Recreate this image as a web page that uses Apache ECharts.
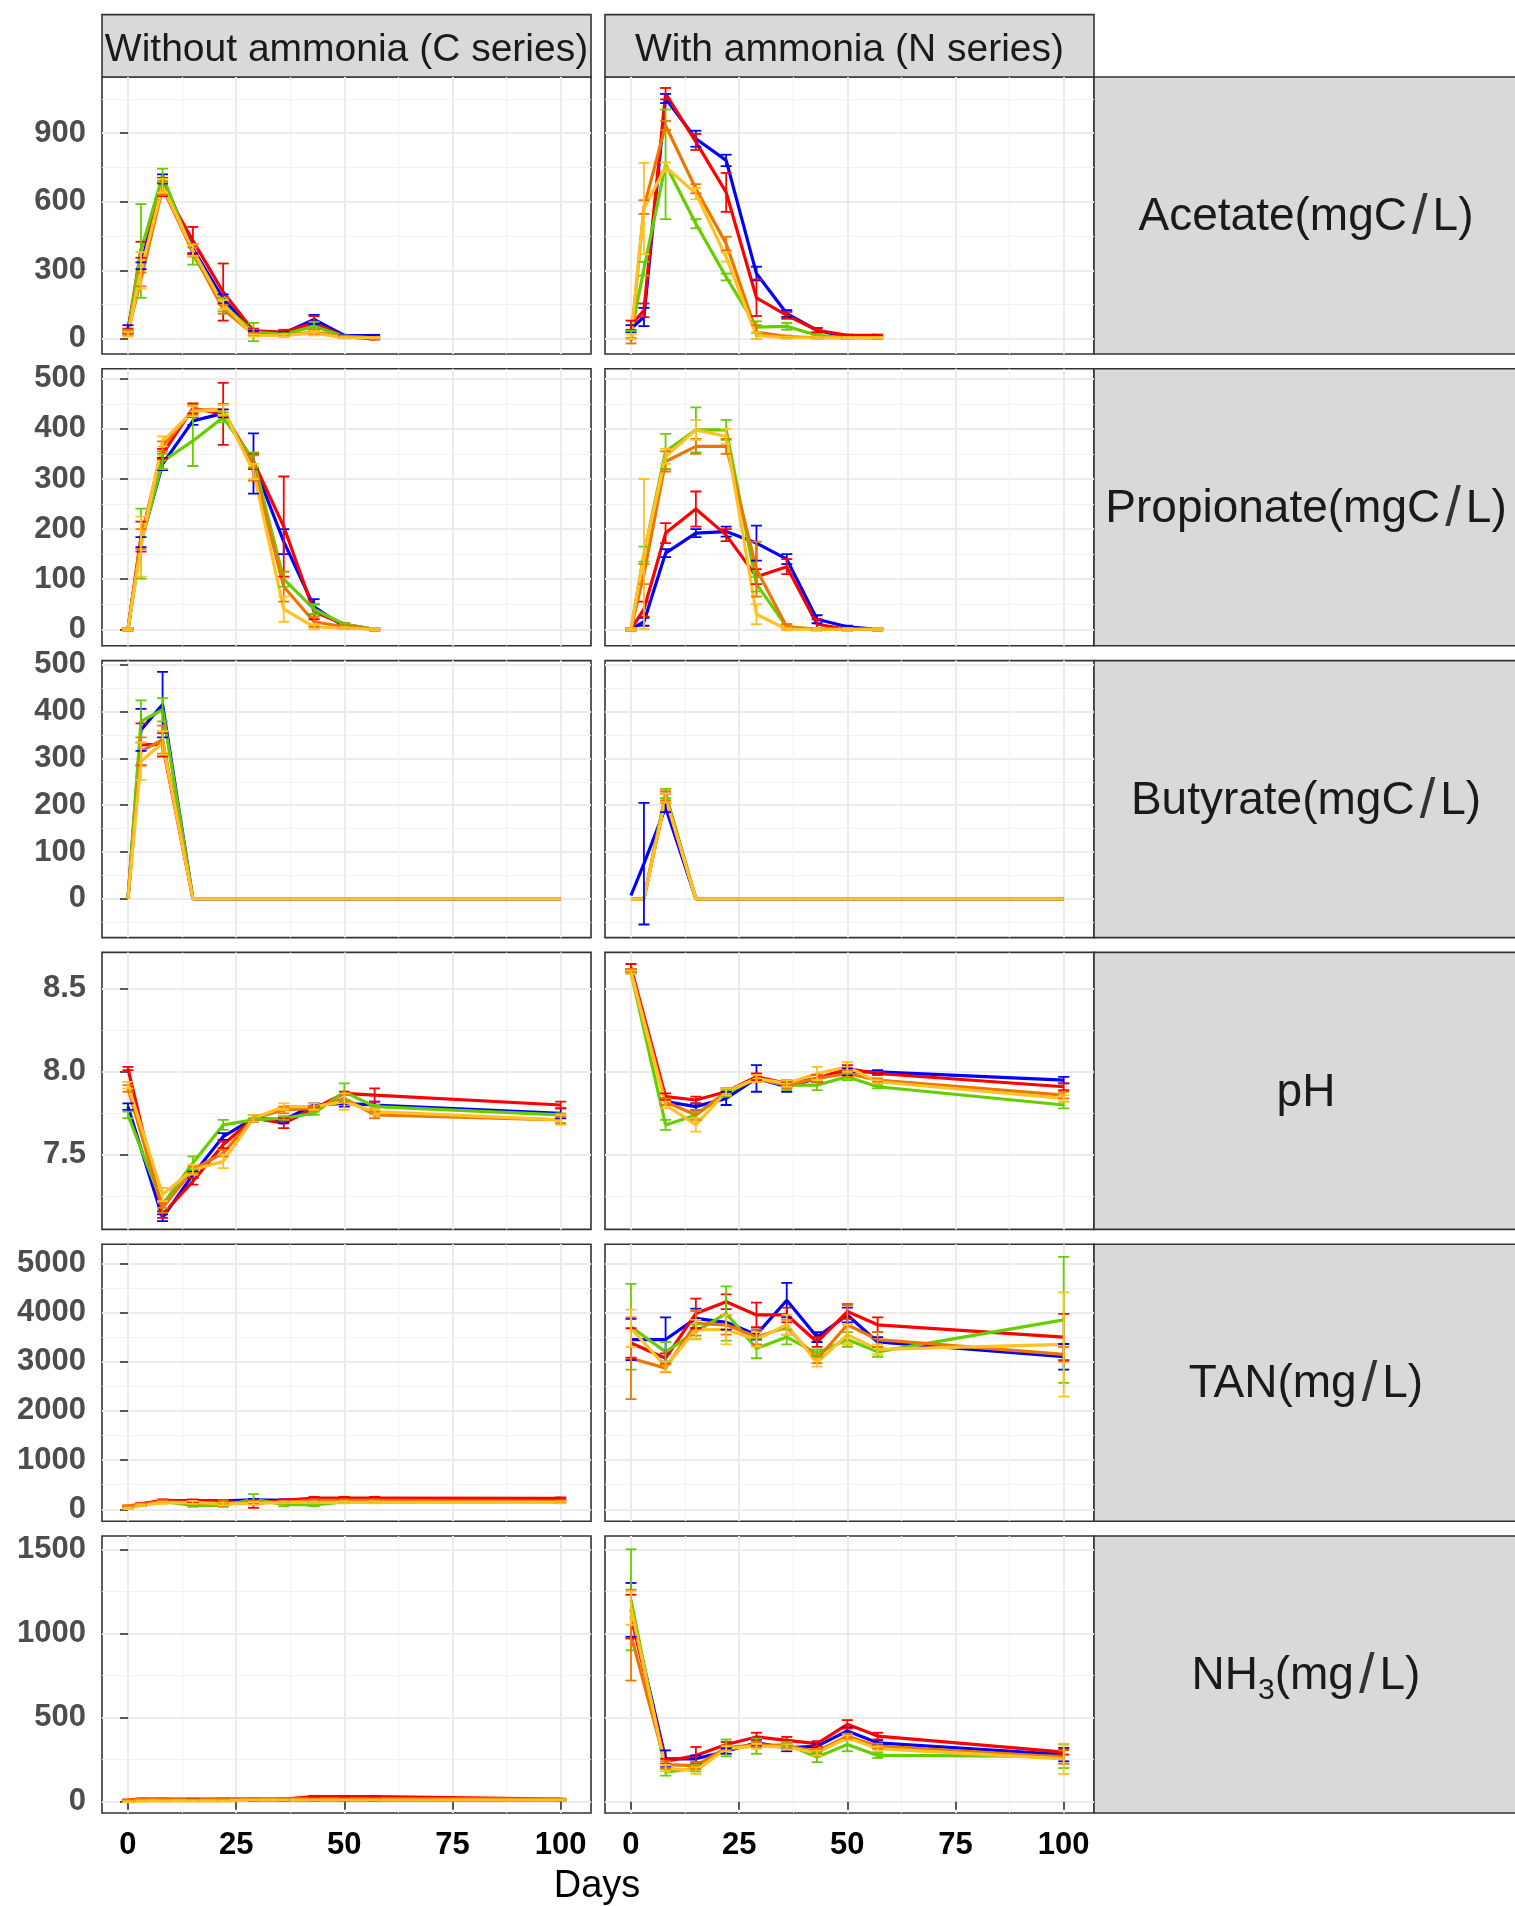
<!DOCTYPE html>
<html>
<head>
<meta charset="utf-8">
<script src="https://cdn.jsdelivr.net/npm/echarts@6/dist/echarts.min.js"></script>
<style>
  html, body { margin: 0; padding: 0; background: #fff; }
  #chart { width: 1515px; height: 1906px; }
</style>
</head>
<body>
<div id="chart"></div>
<script>
// sampling days (null where a variable was not measured)
var days = [0, 3, 8, 15, 22, 29, 36, 43, 50, 57, 100];
var reactors = ['R1', 'R2', 'R3', 'R4', 'R5'];
var colors = ['#0000FF', '#FF0000', '#66CD00', '#EE7600', '#FFC125'];
var xTicks = [0, 25, 50, 75, 100];
var xMinor = [12.5, 37.5, 62.5, 87.5];
var colTitles = ['Without ammonia (C series)', 'With ammonia (N series)'];

// Acetate (mgC/L), rows = R1..R5
var acetateC = [
  [45, 320, 700, 395, 175, 30, 25, 85, 15, 15, null],
  [35, 390, 665, 430, 205, 35, 30, 70, 10, 0, null],
  [25, 385, 715, 370, 150, 30, 20, 55, 10, 5, null],
  [30, 260, 660, 380, 130, 20, 15, 30, 10, 5, null],
  [20, 300, 670, 388, 150, 15, 15, 25, 5, 5, null]
];
var acetateCsd = [
  [15, 15, 20, 20, 20, 5, 5, 20, 3, 3, null],
  [10, 35, 40, 60, 125, 10, 10, 30, 3, 3, null],
  [10, 205, 30, 45, 30, 40, 5, 20, 5, 3, null],
  [10, 30, 30, 20, 20, 5, 5, 10, 3, 3, null],
  [10, 80, 30, 25, 20, 5, 5, 10, 3, 3, null]
];
var acetateN = [
  [45, 96, 1052, 876, 781, 286, 111, 38, 8, 5, null],
  [60, 125, 1073, 862, 641, 180, 103, 38, 16, 16, null],
  [20, 307, 764, 504, 271, 52, 55, 16, 5, 5, null],
  [-10, 577, 934, 657, 417, 30, 10, 5, 5, 5, null],
  [10, 570, 752, 636, 358, 15, 5, 5, 5, 5, null]
];
var acetateNsd = [
  [15, 40, 20, 35, 25, 30, 15, 10, 3, 3, null],
  [20, 30, 25, 35, 85, 80, 15, 10, 3, 3, null],
  [15, 30, 240, 20, 15, 25, 15, 5, 3, 3, null],
  [10, 30, 20, 20, 30, 30, 5, 5, 3, 3, null],
  [10, 200, 20, 25, 20, 15, 5, 5, 3, 3, null]
];

// Propionate (mgC/L)
var propionateC = [
  [0, 174, 330, 416, 431, 331, 175, 45, 5, 0, null],
  [0, 185, 350, 441, 430, 335, 205, 35, 10, 0, null],
  [0, 171, 335, 376, 423, 338, 100, 40, 10, 0, null],
  [0, 180, 365, 438, 438, 322, 85, 15, 5, 0, null],
  [0, 165, 375, 435, 438, 315, 40, 5, 2, 0, null]
];
var propionateCsd = [
  [2, 10, 12, 8, 8, 60, 25, 15, 2, 2, null],
  [2, 30, 10, 10, 62, 15, 100, 15, 2, 2, null],
  [2, 70, 15, 50, 10, 15, 15, 10, 2, 2, null],
  [2, 20, 10, 10, 12, 25, 30, 10, 2, 2, null],
  [2, 60, 10, 10, 10, 15, 25, 5, 2, 2, null]
];
var propionateN = [
  [0, 15, 152, 192, 195, 172, 140, 20, 5, 0, null],
  [0, 40, 192, 240, 188, 105, 125, 10, 0, 0, null],
  [0, 150, 355, 398, 398, 90, 5, 0, 0, 0, null],
  [0, 110, 335, 365, 365, 120, 5, 0, 0, 0, null],
  [0, 150, 345, 398, 385, 30, 0, 0, 0, 0, null]
];
var propionateNsd = [
  [2, 8, 8, 8, 10, 35, 10, 8, 2, 2, null],
  [2, 15, 20, 35, 12, 15, 15, 10, 2, 2, null],
  [2, 15, 35, 45, 20, 15, 5, 2, 2, 2, null],
  [2, 20, 20, 15, 15, 55, 5, 2, 2, 2, null],
  [2, 150, 15, 20, 15, 20, 2, 2, 2, 2, null]
];

// Butyrate (mgC/L)
var butyrateC = [
  [0, 361, 415, 0, 0, 0, 0, 0, 0, 0, 0],
  [0, 330, 329, 0, 0, 0, 0, 0, 0, 0, 0],
  [0, 379, 404, 0, 0, 0, 0, 0, 0, 0, 0],
  [0, 315, 340, 0, 0, 0, 0, 0, 0, 0, 0],
  [0, 294, 333, 0, 0, 0, 0, 0, 0, 0, 0]
];
var butyrateCsd = [
  [0, 45, 70, 0, 0, 0, 0, 0, 0, 0, 0],
  [0, 45, 25, 0, 0, 0, 0, 0, 0, 0, 0],
  [0, 45, 25, 0, 0, 0, 0, 0, 0, 0, 0],
  [0, 30, 30, 0, 0, 0, 0, 0, 0, 0, 0],
  [0, 40, 25, 0, 0, 0, 0, 0, 0, 0, 0]
];
var butyrateN = [
  [7, 75, 195, 0, 0, 0, 0, 0, 0, 0, 0],
  [0, 0, 215, 0, 0, 0, 0, 0, 0, 0, 0],
  [0, 0, 225, 0, 0, 0, 0, 0, 0, 0, 0],
  [0, 0, 220, 0, 0, 0, 0, 0, 0, 0, 0],
  [0, 0, 215, 0, 0, 0, 0, 0, 0, 0, 0]
];
var butyrateNsd = [
  [0, 130, 10, 0, 0, 0, 0, 0, 0, 0, 0],
  [0, 0, 10, 0, 0, 0, 0, 0, 0, 0, 0],
  [0, 0, 10, 0, 0, 0, 0, 0, 0, 0, 0],
  [0, 0, 10, 0, 0, 0, 0, 0, 0, 0, 0],
  [0, 0, 10, 0, 0, 0, 0, 0, 0, 0, 0]
];

// pH
var phC = [
  [7.79, null, 7.12, 7.38, 7.61, 7.72, 7.71, 7.80, 7.81, 7.80, 7.75],
  [8.02, null, 7.14, 7.34, 7.56, 7.72, 7.69, 7.78, 7.87, 7.86, 7.80],
  [7.74, null, 7.20, 7.45, 7.68, 7.71, 7.72, 7.75, 7.88, 7.79, 7.74],
  [7.90, null, 7.18, 7.41, 7.51, 7.72, 7.77, 7.78, 7.84, 7.74, 7.71],
  [7.92, null, 7.26, 7.41, 7.46, 7.72, 7.79, 7.79, 7.82, 7.76, 7.71]
];
var phCsd = [
  [0.02, null, 0.02, 0.02, 0.02, 0.02, 0.02, 0.01, 0.02, 0.02, 0.03],
  [0.01, null, 0.02, 0.02, 0.02, 0.02, 0.03, 0.01, 0.01, 0.04, 0.02],
  [0.02, null, 0.02, 0.04, 0.03, 0.01, 0.01, 0.01, 0.05, 0.01, 0.01],
  [0.02, null, 0.03, 0.02, 0.02, 0.02, 0.02, 0.01, 0.02, 0.02, 0.02],
  [0.02, null, 0.04, 0.03, 0.04, 0.02, 0.02, 0.02, 0.05, 0.02, 0.03]
];
var phN = [
  [8.61, null, 7.82, 7.79, 7.84, 7.96, 7.91, 7.96, 8.00, 8.00, 7.95],
  [8.63, null, 7.85, 7.83, 7.88, 7.97, 7.93, 7.96, 8.02, 7.99, 7.91],
  [8.60, null, 7.68, 7.74, 7.87, 7.96, 7.92, 7.92, 7.97, 7.91, 7.80],
  [8.61, null, 7.82, 7.74, 7.88, 7.96, 7.92, 7.96, 7.99, 7.95, 7.86],
  [8.60, null, 7.80, 7.68, 7.88, 7.96, 7.93, 7.99, 8.03, 7.94, 7.84]
];
var phNsd = [
  [0.01, null, 0.02, 0.02, 0.04, 0.08, 0.03, 0.02, 0.02, 0.01, 0.02],
  [0.02, null, 0.02, 0.02, 0.02, 0.02, 0.02, 0.02, 0.02, 0.01, 0.02],
  [0.01, null, 0.03, 0.02, 0.02, 0.02, 0.03, 0.03, 0.02, 0.01, 0.02],
  [0.01, null, 0.02, 0.03, 0.02, 0.02, 0.02, 0.02, 0.02, 0.01, 0.02],
  [0.01, null, 0.02, 0.04, 0.02, 0.02, 0.02, 0.04, 0.03, 0.01, 0.02]
];

// TAN (mg/L)
var tanC = [
  [50, 100, 170, 170, 170, 190, 180, 200, 200, 200, 180],
  [50, 110, 180, 170, 160, 110, 180, 230, 230, 230, 220],
  [40, 90, 160, 80, 80, 200, 100, 90, 150, 150, 150],
  [70, 100, 150, 130, 120, 140, 140, 180, 180, 180, 160],
  [20, 80, 130, 140, 110, 120, 140, 140, 140, 140, 140]
];
var tanCsd = [
  [15, 20, 20, 20, 20, 20, 20, 20, 20, 20, 20],
  [15, 20, 20, 30, 30, 80, 20, 20, 20, 20, 20],
  [15, 20, 20, 30, 30, 110, 40, 30, 20, 20, 20],
  [15, 20, 20, 30, 60, 30, 20, 20, 20, 20, 20],
  [15, 20, 20, 30, 30, 30, 20, 20, 20, 20, 20]
];
var tanN = [
  [3450, null, 3450, 3880, 3800, 3550, 4250, 3500, 3950, 3400, 3100],
  [3380, null, 3070, 3980, 4220, 3950, 3950, 3400, 4020, 3750, 3500],
  [3710, null, 3200, 3610, 3980, 3270, 3500, 3170, 3450, 3200, 3850],
  [3070, null, 2870, 3780, 3750, 3500, 3700, 3050, 3750, 3450, 3150],
  [3680, null, 2900, 3650, 3650, 3450, 3750, 2980, 3550, 3250, 3350]
];
var tanNsd = [
  [420, null, 450, 200, 150, 100, 350, 100, 150, 100, 260],
  [300, null, 100, 300, 150, 250, 150, 100, 150, 150, 470],
  [870, null, 200, 150, 550, 200, 150, 80, 150, 100, 1280],
  [830, null, 80, 250, 200, 150, 150, 80, 400, 150, 150],
  [380, null, 100, 200, 300, 150, 200, 80, 200, 100, 1060]
];

// NH3 (mg/L)
var nh3C = [
  [5, 10, 10, 10, 10, 10, 10, 10, 10, 10, 10],
  [10, 15, 15, 15, 15, 15, 15, 30, 30, 30, 15],
  [5, 10, 10, 10, 10, 15, 15, 15, 15, 15, 15],
  [10, 15, 15, 10, 15, 15, 15, 15, 15, 15, 12],
  [0, 5, 5, 5, 5, 10, 10, 10, 10, 10, 10]
];
var nh3Csd = [
  [3, 3, 3, 3, 3, 3, 3, 3, 3, 3, 3],
  [3, 3, 3, 3, 3, 3, 3, 5, 5, 5, 3],
  [3, 3, 3, 3, 3, 3, 3, 3, 3, 3, 3],
  [3, 3, 3, 3, 3, 3, 3, 3, 3, 3, 3],
  [3, 3, 3, 3, 3, 3, 3, 3, 3, 3, 3]
];
var nh3N = [
  [1140, null, 255, 255, 300, 350, 320, 330, 420, 350, 280],
  [1100, null, 240, 275, 340, 385, 365, 345, 460, 390, 295],
  [1200, null, 175, 200, 320, 330, 340, 265, 340, 275, 270],
  [990, null, 220, 215, 320, 340, 330, 300, 390, 330, 265],
  [1150, null, 200, 185, 315, 330, 325, 290, 380, 315, 255]
];
var nh3Nsd = [
  [160, null, 50, 20, 15, 20, 20, 15, 20, 15, 40],
  [130, null, 15, 50, 15, 25, 20, 15, 25, 20, 15],
  [300, null, 20, 20, 50, 45, 15, 30, 40, 15, 70],
  [270, null, 20, 20, 15, 15, 15, 15, 15, 15, 40],
  [100, null, 20, 20, 15, 15, 15, 15, 15, 15, 90]
];

// y tick labels per row
var acetateTicks = [0, 300, 600, 900], acetateMinor = [150, 450, 750, 1050];
var propionateTicks = [0, 100, 200, 300, 400, 500], propionateMinor = [50, 150, 250, 350, 450];
var butyrateTicks = [0, 100, 200, 300, 400, 500], butyrateMinor = [-50, 50, 150, 250, 350, 450];
var phTicks = [7.5, 8.0, 8.5], phMinor = [7.25, 7.75, 8.25];
var tanTicks = [0, 1000, 2000, 3000, 4000, 5000], tanMinor = [500, 1500, 2500, 3500, 4500];
var nh3Ticks = [0, 500, 1000, 1500], nh3Minor = [250, 750, 1250];

var FONT = '"Liberation Sans", Arial, sans-serif';

var rows = [
  { label: '{t|Acetate(mgC}{s|/}{t|L)}', ticks: acetateTicks, minor: acetateMinor, range: [-66, 1146], vals: [acetateC, acetateN], sd: [acetateCsd, acetateNsd] },
  { label: '{t|Propionate(mgC}{s|/}{t|L)}', ticks: propionateTicks, minor: propionateMinor, range: [-33, 520], vals: [propionateC, propionateN], sd: [propionateCsd, propionateNsd] },
  { label: '{t|Butyrate(mgC}{s|/}{t|L)}', ticks: butyrateTicks, minor: butyrateMinor, range: [-83, 509], vals: [butyrateC, butyrateN], sd: [butyrateCsd, butyrateNsd] },
  { label: '{t|pH}', ticks: phTicks, minor: phMinor, range: [7.05, 8.72], vals: [phC, phN], sd: [phCsd, phNsd], fmt: function (v) { return v.toFixed(1); } },
  { label: '{t|TAN(mg}{s|/}{t|L)}', ticks: tanTicks, minor: tanMinor, range: [-242, 5388], vals: [tanC, tanN], sd: [tanCsd, tanNsd] },
  { label: '{t|NH}{sub|3}{t|(mg}{s|/}{t|L)}', ticks: nh3Ticks, minor: nh3Minor, range: [-67, 1579], vals: [nh3C, nh3N], sd: [nh3Csd, nh3Nsd] }
];

// layout (px)
var panelLeft = [102, 605];
var panelWidth = 489;
var panelTop0 = 77, rowStep = 291.8, panelHeight = 277;
var stripRightX = 1094, stripRightW = 424;

function renderErr(params, api) {
  var x = api.value(0);
  var p1 = api.coord([x, api.value(1)]);
  var p2 = api.coord([x, api.value(2)]);
  var w = 5.5;
  var st = { stroke: api.visual('color'), lineWidth: 1.8 };
  return {
    type: 'group',
    children: [
      { type: 'line', shape: { x1: p1[0], y1: p1[1], x2: p2[0], y2: p2[1] }, style: st },
      { type: 'line', shape: { x1: p1[0] - w, y1: p1[1], x2: p1[0] + w, y2: p1[1] }, style: st },
      { type: 'line', shape: { x1: p2[0] - w, y1: p2[1], x2: p2[0] + w, y2: p2[1] }, style: st }
    ]
  };
}

var grids = [], xAxes = [], yAxes = [], series = [], graphics = [];

rows.forEach(function (row, r) {
  var top = panelTop0 + r * rowStep;
  var bottomRow = r === rows.length - 1;
  for (var c = 0; c < 2; c++) {
    var g = grids.length;
    grids.push({
      left: panelLeft[c], top: top, width: panelWidth, height: panelHeight,
      show: true, backgroundColor: '#fff', borderColor: '#333333', borderWidth: 1.6,
      containLabel: false, outerBoundsMode: 'none'
    });
    // major x
    xAxes.push({
      type: 'value', gridIndex: g, min: -6, max: 107,
      axisLine: { show: false },
      axisTick: { show: bottomRow, customValues: xTicks, length: 8, lineStyle: { color: '#333333', width: 1.6 } },
      axisLabel: { show: bottomRow, customValues: xTicks, margin: 17, color: '#000', fontSize: 31, fontWeight: 'bold', fontFamily: FONT },
      splitLine: { show: true, lineStyle: { color: '#EBEBEB', width: 2 } }
    });
    // minor x
    xAxes.push({
      type: 'value', gridIndex: g, min: -6, max: 107,
      axisLine: { show: false },
      axisTick: { show: false, customValues: xMinor },
      axisLabel: { show: false },
      splitLine: { show: true, lineStyle: { color: '#F2F2F2', width: 1.2 } }
    });
    // major y
    yAxes.push({
      type: 'value', gridIndex: g, min: row.range[0], max: row.range[1],
      axisLine: { show: false },
      axisTick: { show: c === 0, customValues: row.ticks, length: 8, lineStyle: { color: '#333333', width: 1.6 } },
      axisLabel: { show: c === 0, customValues: row.ticks, margin: 16, color: '#4D4D4D', fontSize: 31, fontWeight: 'bold', fontFamily: FONT,
        formatter: row.fmt || function (v) { return String(v); } },
      splitLine: { show: true, lineStyle: { color: '#EBEBEB', width: 2 } }
    });
    // minor y
    yAxes.push({
      type: 'value', gridIndex: g, min: row.range[0], max: row.range[1],
      axisLine: { show: false },
      axisTick: { show: false, customValues: row.minor },
      axisLabel: { show: false },
      splitLine: { show: true, lineStyle: { color: '#F2F2F2', width: 1.2 } }
    });

    var vals = row.vals[c], sds = row.sd[c];
    // lines
    reactors.forEach(function (name, k) {
      var pts = [];
      days.forEach(function (d, i) { if (vals[k][i] != null) pts.push([d, vals[k][i]]); });
      series.push({
        type: 'line', name: name, xAxisIndex: 2 * g, yAxisIndex: 2 * g,
        data: pts, showSymbol: false, symbol: 'none', clip: true,
        lineStyle: { color: colors[k], width: 3.2 }, itemStyle: { color: colors[k] },
        silent: true, z: 3
      });
    });
    // error bars
    reactors.forEach(function (name, k) {
      var eb = [];
      days.forEach(function (d, i) {
        var v = vals[k][i], s = sds[k][i];
        if (v != null && s != null && s > 0) eb.push([d, v - s, v + s]);
      });
      series.push({
        type: 'custom', name: name, xAxisIndex: 2 * g, yAxisIndex: 2 * g,
        data: eb, renderItem: renderErr, encode: { x: 0, y: [1, 2] },
        itemStyle: { color: colors[k] }, clip: true, silent: true, z: 4
      });
    });
  }

  // right strip
  graphics.push({
    type: 'rect', shape: { x: stripRightX, y: top, width: stripRightW, height: panelHeight },
    style: { fill: '#D9D9D9', stroke: '#333333', lineWidth: 1.6 }, silent: true
  });
  graphics.push({
    type: 'text', x: stripRightX + stripRightW / 2, y: top + panelHeight / 2 + 2, silent: true,
    style: {
      text: row.label, align: 'center', verticalAlign: 'middle', fill: '#1A1A1A',
      rich: {
        t: { fontSize: 46, fontFamily: FONT, lineHeight: 58, fill: '#1A1A1A' },
        s: { fontSize: 56, fontFamily: FONT, lineHeight: 58, fill: '#333333', padding: [0, 5, 0, 5] },
        sub: { fontSize: 30, fontFamily: FONT, lineHeight: 30, fill: '#1A1A1A', verticalAlign: 'bottom' }
      }
    }
  });
});

// column strips
colTitles.forEach(function (t, c) {
  graphics.push({
    type: 'rect', shape: { x: panelLeft[c], y: 14.6, width: panelWidth, height: 62.4 },
    style: { fill: '#D9D9D9', stroke: '#333333', lineWidth: 1.6 }, silent: true
  });
  graphics.push({
    type: 'text', x: panelLeft[c] + panelWidth / 2, y: 50, silent: true,
    style: { text: t, align: 'center', verticalAlign: 'middle', fill: '#1A1A1A', font: '39px ' + FONT }
  });
});

// x axis title
graphics.push({
  type: 'text', x: 597, y: 1887, silent: true,
  style: { text: 'Days', align: 'center', verticalAlign: 'middle', fill: '#000', font: '38px ' + FONT }
});

var chart = echarts.init(document.getElementById('chart'), null, { renderer: 'canvas' });
chart.setOption({
  animation: false,
  backgroundColor: '#fff',
  grid: grids,
  xAxis: xAxes,
  yAxis: yAxes,
  series: series,
  graphic: graphics
});
</script>
</body>
</html>
